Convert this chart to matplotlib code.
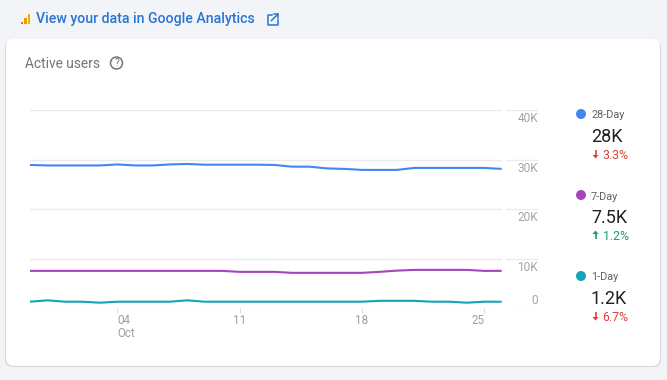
#!/usr/bin/env python3
"""Active users card: 28/7/1-day lines with a summary column on the right."""
import matplotlib
matplotlib.use("Agg")
import matplotlib.pyplot as plt  # noqa: E402
from matplotlib.patches import Circle, FancyBboxPatch, Rectangle  # noqa: E402

plt.rcParams["font.family"] = ["Roboto", "DejaVu Sans"]

W, H = 667, 380

# day of month, Sep 29 = -1, Sep 30 = 0
days = list(range(-1, 27))
users_28 = [28.9, 28.8, 28.8, 28.8, 28.8, 29.0, 28.8, 28.8, 29.0, 29.1, 28.95, 28.95,
            28.95, 28.95, 28.9, 28.55, 28.55, 28.2, 28.1, 27.9, 27.9, 27.9, 28.3, 28.3,
            28.3, 28.3, 28.3, 28.1]
users_7 = [7.5, 7.5, 7.5, 7.5, 7.5, 7.5, 7.5, 7.5, 7.5, 7.5, 7.5, 7.5, 7.3, 7.3, 7.3,
           7.1, 7.1, 7.1, 7.1, 7.1, 7.3, 7.55, 7.7, 7.7, 7.7, 7.7, 7.5, 7.5]
users_1 = [1.27, 1.55, 1.27, 1.27, 1.07, 1.27, 1.27, 1.27, 1.27, 1.55, 1.27, 1.27, 1.27,
           1.27, 1.27, 1.27, 1.27, 1.27, 1.27, 1.27, 1.45, 1.45, 1.45, 1.27, 1.27, 1.07,
           1.27, 1.27]

y_ticks = [0, 10, 20, 30, 40]
y_labels = ["0", "10K", "20K", "30K", "40K"]
x_ticks = [4, 11, 18, 25]
x_labels = ["04\nOct", "11", "18", "25"]
x_aligns = ["left", "center", "center", "right"]

names = ["28-Day", "7-Day", "1-Day"]
totals = ["28K", "7.5K", "1.2K"]
deltas = ["3.3%", "1.2%", "6.7%"]
deltas_up = [False, True, False]
colors = ["#4285f4", "#a643bd", "#12a4b8"]
series = [users_28, users_7, users_1]

GRID = "#ebebeb"
LINK = "#2a74d6"
RED = "#d9423a"
GREEN = "#239a64"


def arrow(ax, x, y, up, color):
    d = -1 if up else 1
    ax.plot([x, x], [y - 4 * d, y + 2 * d], color=color, lw=1.2, solid_capstyle="butt")
    ax.fill([x - 3, x + 3, x], [y + 1 * d, y + 1 * d, y + 4.5 * d], color=color, lw=0)


fig = plt.figure(figsize=(W / 100, H / 100), dpi=100, facecolor="#f3f4f7")

# page furniture is drawn in pixel coordinates on a full-figure axes
bg = fig.add_axes([0, 0, 1, 1])
bg.set_xlim(0, W)
bg.set_ylim(H, 0)
bg.axis("off")

bg.add_patch(FancyBboxPatch((5, 40), 656, 327, boxstyle="round,pad=0,rounding_size=8",
                            fc="#d5d6d9", ec="none"))
bg.add_patch(FancyBboxPatch((6, 39), 654, 327, boxstyle="round,pad=0,rounding_size=8",
                            fc="white", ec="none"))

# analytics logo
for x0, top, c in [(20.5, 22, "#e37400"), (24, 18, "#f29900"), (27.5, 14, "#f9ab00")]:
    bg.add_patch(Rectangle((x0, top), 2.6, 24 - top, fc=c, ec="none"))
bg.text(36, 18.5, "View your data in Google Analytics", color=LINK, fontsize=10.2,
        fontweight="medium", va="center", ha="left")

# external link icon
bg.plot([272, 267.5, 267.5, 277.5, 277.5], [14.5, 14.5, 24.5, 24.5, 20], color=LINK, lw=1.1)
bg.plot([271.5, 278], [20.5, 14], color=LINK, lw=1.1)
bg.plot([274, 278, 278], [14, 14, 18], color=LINK, lw=1.1)

bg.text(25, 64, "Active users", color="#757575", fontsize=9.9, va="center", ha="left")
bg.add_patch(Circle((116.5, 63), 6, fc="none", ec="#757575", lw=1.1))
bg.text(116.5, 63.2, "?", color="#757575", fontsize=7, va="center", ha="center")

# summary column
for i, (name, total, delta, up, color) in enumerate(zip(names, totals, deltas, deltas_up, colors)):
    y = 114 + i * 81
    bg.add_patch(Circle((581, y), 5, fc=color, ec="none"))
    bg.text(591, y + 1.5, name, color="#616161", fontsize=7.8, va="center", ha="left")
    bg.text(591, y + 23, total, color="#212121", fontsize=13, va="center", ha="left")
    c = GREEN if up else RED
    arrow(bg, 595.5, y + 40, up, c)
    bg.text(602.5, y + 41.5, delta, color=c, fontsize=8.8, va="center", ha="left")

# chart area spans x 30-538 px, y 110-308 px
ax = fig.add_axes([30 / W, 1 - 308 / H, 508 / W, 198 / H], facecolor="none")
ax.set_xlim(-1, -1 + 508 / 17.47)
ax.set_ylim(0, 40)
for s in ax.spines.values():
    s.set_visible(False)

ax.set_yticks(y_ticks)
ax.tick_params(axis="y", length=0, labelleft=False)
ax.grid(axis="y", color=GRID, lw=1)
ax.set_axisbelow(True)
ax.axvspan(26, 26.25, color="white", lw=0, zorder=1.5)

ax.set_xticks(x_ticks)
ax.set_xticklabels(x_labels, color="#9e9e9e", fontsize=8.4, linespacing=1.0)
for lab, align in zip(ax.get_xticklabels(), x_aligns):
    lab.set_ha(align)
    lab.set_multialignment("left")
ax.tick_params(axis="x", length=3.5, width=0.8, color="#dddddd", pad=1)

for vals, color in zip(series, colors):
    ax.plot(days, vals, color=color, lw=1.5, zorder=3, clip_on=False, solid_capstyle="butt")

for v, lab in zip(y_ticks, y_labels):
    dy = 8 if v == 0 else -8.7
    ax.annotate(lab, (1, v), xycoords=ax.get_yaxis_transform(), xytext=(0, dy * 0.72),
                textcoords="offset points", ha="right", va="center", color="#a6a6a6",
                fontsize=8.6)

fig.savefig("out.png", dpi=100, facecolor=fig.get_facecolor())
